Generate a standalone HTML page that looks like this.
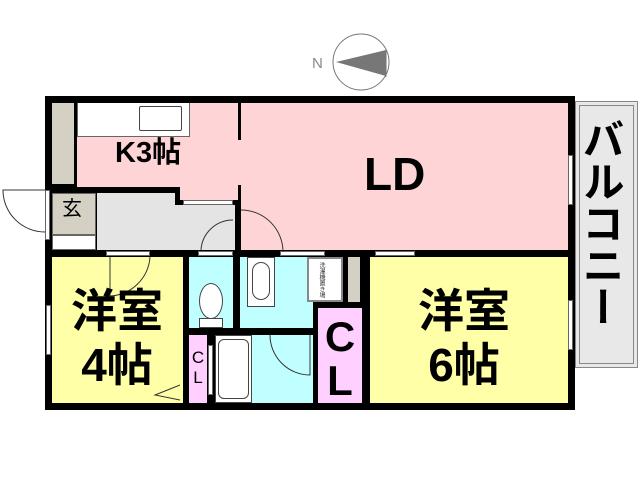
<!DOCTYPE html><html><head><meta charset="utf-8"><style>
body{margin:0;width:640px;height:480px;background:#fff;position:relative;overflow:hidden;font-family:"Liberation Sans","Noto Sans CJK JP",sans-serif}
div{position:absolute;box-sizing:border-box}
.t{color:#000;line-height:1;white-space:nowrap}
.b{font-weight:bold}
</style></head><body>
<svg width="640" height="480" style="position:absolute;left:0;top:0">
<circle cx="361" cy="62" r="28" fill="#fff" stroke="#777" stroke-width="1"/>
<polygon points="336,62 386,50 386,76" fill="#777"/>
<line x1="386" y1="49" x2="386" y2="77" stroke="#777"/>
<text x="312" y="68" font-family="Liberation Sans" font-size="15" fill="#888">N</text>
</svg>
<div style="left:575px;top:101px;width:63px;height:267px;background:#e8e8e8;border:1px solid #888"></div>
<div style="left:579px;top:105px;width:55px;height:259px;border:1px solid #888"></div>
<div style="left:45px;top:96px;width:530px;height:314px;background:#000"></div>
<div style="left:52px;top:103px;width:22px;height:81px;background:#d4d0c4"></div>
<div style="left:77px;top:103px;width:161px;height:84px;background:#ffd4d6"></div>
<div style="left:180px;top:185px;width:58px;height:15px;background:#ffd4d6"></div>
<div style="left:77px;top:103px;width:113px;height:34px;background:#fff;border:1px solid #666;border-top:none"></div>
<div style="left:139px;top:106px;width:43px;height:25px;background:#fff;border:1px solid #444;border-radius:2px"></div>
<div style="left:241px;top:103px;width:327px;height:147px;background:#ffd4d6"></div>
<div style="left:235px;top:140px;width:6px;height:45px;background:#ffd4d6"></div>
<div style="left:97px;top:193px;width:78px;height:57px;background:#e4e4e4"></div>
<div style="left:175px;top:205px;width:60px;height:45px;background:#e4e4e4"></div>
<div style="left:183px;top:200px;width:50px;height:5px;background:#fff;border:1px solid #666"></div>
<div style="left:52px;top:193px;width:44px;height:42px;background:#d4d0c4;border:1px solid #666"></div>
<div style="left:52px;top:235px;width:44px;height:15px;background:#fff;border:1px solid #666"></div>
<div class="t" style="left:62px;top:199px;font-size:20px">玄</div>
<div style="left:45px;top:190px;width:5px;height:50px;background:#fff;border:1px solid #666"></div>
<div style="left:52px;top:257px;width:131px;height:146px;background:#ffffa8"></div>
<div style="left:189px;top:257px;width:44px;height:71px;background:#c0ffff"></div>
<div style="left:240px;top:257px;width:73px;height:71px;background:#c0ffff"></div>
<div style="left:247px;top:257px;width:28px;height:50px;background:#fff;border:1px solid #444"></div>
<div style="left:252px;top:262px;width:18px;height:38px;background:#fff;border:1px solid #444;border-radius:9px"></div>
<div style="left:199px;top:283px;width:24px;height:36px;background:#fff;border:1px solid #444;border-radius:12px/18px"></div>
<div style="left:199px;top:318px;width:24px;height:10px;background:#fff;border:1px solid #444"></div>
<div style="left:307px;top:257px;width:36px;height:45px;background:#fff;border:2px solid #888"></div>
<div style="left:348px;top:257px;width:12px;height:45px;background:#d4d0c4"></div>
<div style="left:189px;top:335px;width:18px;height:68px;background:#ffd0ff"></div>
<div style="left:215px;top:335px;width:37px;height:68px;background:#fff;border:1px solid #444"></div>
<div style="left:218px;top:339px;width:31px;height:60px;background:#fff;border:1px solid #444;border-radius:6px"></div>
<div style="left:252px;top:335px;width:61px;height:68px;background:#c0ffff"></div>
<div style="left:318px;top:308px;width:44px;height:95px;background:#ffd0ff"></div>
<div style="left:370px;top:257px;width:198px;height:146px;background:#ffffa8"></div>
<div style="left:106px;top:251px;width:44px;height:5px;background:#fff;border:1px solid #666"></div>
<div style="left:198px;top:251px;width:35px;height:5px;background:#fff;border:1px solid #666"></div>
<div style="left:280px;top:251px;width:45px;height:5px;background:#fff;border:1px solid #666"></div>
<div style="left:375px;top:251px;width:40px;height:5px;background:#fff;border:1px solid #666"></div>
<div style="left:568px;top:155px;width:5px;height:50px;background:#fff;border:1px solid #666"></div>
<div style="left:568px;top:300px;width:5px;height:50px;background:#fff;border:1px solid #666"></div>
<div style="left:46px;top:305px;width:5px;height:50px;background:#fff;border:1px solid #666"></div>
<div style="left:208px;top:345px;width:5px;height:50px;background:#fff;border:1px solid #666"></div>
<svg width="640" height="480" style="position:absolute;left:0;top:0" fill="none" stroke="#333">
<path d="M45,232 A42,42 0 0 1 3,190 L45,190"/>
<path d="M241,210 A42,42 0 0 1 283,252"/>
<path d="M233,220 A32,32 0 0 0 201,250"/>
<path d="M150,257 A42,42 0 0 1 110,296 L110,257"/>
<path d="M270,335 A40,40 0 0 0 310,375 L310,335"/>
<path d="M180,385 L155,395 L180,400"/>
</svg>
<div class="t b" style="left:115px;top:139px;font-size:29px">K3帖</div>
<div class="t b" style="left:364px;top:151px;font-size:46px">LD</div>
<div class="t b" style="left:69px;top:284px;font-size:46px;line-height:54px;text-align:center;width:96px">洋室<br>4帖</div>
<div class="t b" style="left:416px;top:284px;font-size:46px;line-height:54px;text-align:center;width:96px">洋室<br>6帖</div>
<div class="t b" style="left:322px;top:315px;font-size:42px;line-height:44px;width:36px;text-align:center">C<br>L</div>
<div class="t" style="left:190px;top:348px;font-size:17px;line-height:20px;width:16px;text-align:center">C<br>L</div>
<div class="t b" style="left:585px;top:118px;font-size:42px;line-height:54px;width:42px;text-align:center;writing-mode:vertical-rl">バルコニー</div>
<div class="t" style="left:318px;top:262px;font-size:6px;writing-mode:vertical-rl;color:#333">洗濯機置き場</div>
</body></html>
